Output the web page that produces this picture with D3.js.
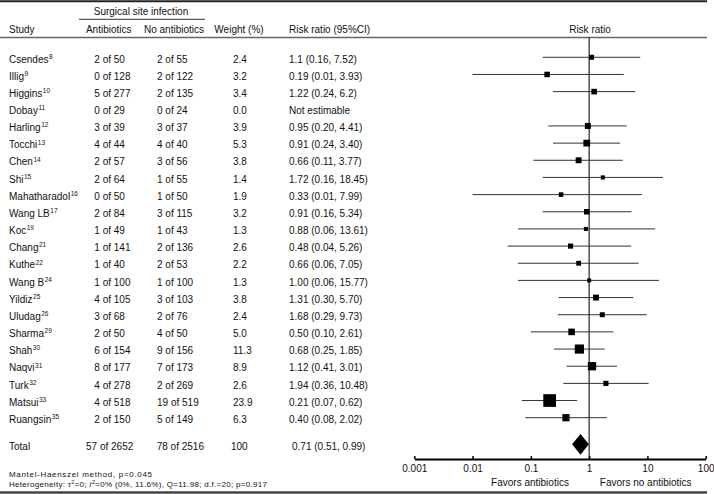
<!DOCTYPE html>
<html>
<head>
<meta charset="utf-8">
<script src="https://cdn.jsdelivr.net/npm/d3@7"></script>
<style>
  html, body { margin: 0; padding: 0; background: #fff; }
  svg { display: block; }
  text { font-family: "Liberation Sans", Arial, Helvetica, sans-serif; fill: #111; }
</style>
</head>
<body>
<div id="chart"></div>
<script>
const studies = ["Csendes","Illig","Higgins","Dobay","Harling","Tocchi","Chen","Shi","Mahatharadol","Wang LB","Koc","Chang","Kuthe","Wang B","Yildiz","Uludag","Sharma","Shah","Naqvi","Turk","Matsui","Ruangsin"];
const refs = ["8","9","10","11","12","13","14","15","16","17","19","21","22","24","25","26","29","30","31","32","33","35"];
const antibiotics = ["2 of 50","0 of 128","5 of 277","0 of 29","3 of 39","4 of 44","2 of 57","2 of 64","0 of 50","2 of 84","1 of 49","1 of 141","1 of 40","1 of 100","4 of 105","3 of 68","2 of 50","6 of 154","8 of 177","4 of 278","4 of 518","2 of 150"];
const noAntibiotics = ["2 of 55","2 of 122","2 of 135","0 of 24","3 of 37","4 of 40","3 of 56","1 of 55","1 of 50","3 of 115","1 of 43","2 of 136","2 of 53","1 of 100","3 of 103","2 of 76","4 of 50","9 of 156","7 of 173","2 of 269","19 of 519","5 of 149"];
const weights = [2.4,3.2,3.4,0.0,3.9,5.3,3.8,1.4,1.9,3.2,1.3,2.6,2.2,1.3,3.8,2.4,5.0,11.3,8.9,2.6,23.9,6.3];
const riskRatio = [1.1,0.19,1.22,null,0.95,0.91,0.66,1.72,0.33,0.91,0.88,0.48,0.66,1.00,1.31,1.68,0.50,0.68,1.12,1.94,0.21,0.40];
const ciLower = [0.16,0.01,0.24,null,0.20,0.24,0.11,0.16,0.01,0.16,0.06,0.04,0.06,0.06,0.30,0.29,0.10,0.25,0.41,0.36,0.07,0.08];
const ciUpper = [7.52,3.93,6.2,null,4.41,3.40,3.77,18.45,7.99,5.34,13.61,5.26,7.05,15.77,5.70,9.73,2.61,1.85,3.01,10.48,0.62,2.02];
const rrLabels = ["1.1 (0.16, 7.52)","0.19 (0.01, 3.93)","1.22 (0.24, 6.2)","Not estimable","0.95 (0.20, 4.41)","0.91 (0.24, 3.40)","0.66 (0.11, 3.77)","1.72 (0.16, 18.45)","0.33 (0.01, 7.99)","0.91 (0.16, 5.34)","0.88 (0.06, 13.61)","0.48 (0.04, 5.26)","0.66 (0.06, 7.05)","1.00 (0.06, 15.77)","1.31 (0.30, 5.70)","1.68 (0.29, 9.73)","0.50 (0.10, 2.61)","0.68 (0.25, 1.85)","1.12 (0.41, 3.01)","1.94 (0.36, 10.48)","0.21 (0.07, 0.62)","0.40 (0.08, 2.02)"];

const total = { label: "Total", antibiotics: "57 of 2652", noAntibiotics: "78 of 2516", weight: "100", rr: 0.71, lower: 0.51, upper: 0.99, rrLabel: "0.71 (0.51, 0.99)" };

const headers = ["Study","Antibiotics","No antibiotics","Weight (%)","Risk ratio (95%CI)"];
const groupHeader = "Surgical site infection";
const plotHeader = "Risk ratio";
const tickValues = [0.001,0.01,0.1,1,10,100];
const tickLabels = ["0.001","0.01","0.1","1","10","100"];
const favorLabels = ["Favors antibiotics","Favors no antibiotics"];
const footnote1 = "Mantel-Haenszel  method, p=0.045";

const W = 714, H = 494;
const svg = d3.select("#chart").append("svg").attr("width", W).attr("height", H);

const x = d3.scaleLog().domain([0.001, 100]).range([414.3, 705.7]);
const y = d3.scalePoint().domain(d3.range(studies.length)).range([57.3, 417.7]);
const totalY = 444.3;
const axisY = 459;
const size = d3.scalePow().exponent(0.5).domain([0, 23.9]).range([1.4, 12.7]);

const fs = 10;
const dyText = 5.2;

// Frame lines
svg.append("line").attr("x1", 0).attr("x2", 707).attr("y1", 1.2).attr("y2", 1.2).attr("stroke", "#222").attr("stroke-width", 2);
svg.append("line").attr("x1", 0).attr("x2", 707).attr("y1", 37.5).attr("y2", 37.5).attr("stroke", "#666").attr("stroke-width", 1.5);
svg.append("line").attr("x1", 0).attr("x2", 707).attr("y1", 492.5).attr("y2", 492.5).attr("stroke", "#444").attr("stroke-width", 2.5);
svg.append("line").attr("x1", 79).attr("x2", 205).attr("y1", 19.3).attr("y2", 19.3).attr("stroke", "#333").attr("stroke-width", 1);

// Headers
svg.append("text").attr("x", 141).attr("y", 14.5).attr("text-anchor", "middle").attr("font-size", fs).text(groupHeader);
const hx = [9, 108.7, 174, 239, 289];
const ha = ["start","middle","middle","middle","start"];
headers.forEach((h, i) => {
  svg.append("text").attr("x", hx[i]).attr("y", 32.6).attr("text-anchor", ha[i]).attr("font-size", fs).text(h);
});
svg.append("text").attr("x", 590).attr("y", 32.6).attr("text-anchor", "middle").attr("font-size", fs).text(plotHeader);

// Table rows
const rows = svg.append("g");
studies.forEach((s, i) => {
  const t = rows.append("text").attr("x", 9).attr("y", y(i) + dyText).attr("font-size", fs);
  t.append("tspan").text(s);
  t.append("tspan").attr("font-size", 6.5).attr("dy", -3.8).attr("dx", 0.5).text(refs[i]);
  rows.append("text").attr("x", 94.3).attr("y", y(i) + dyText).attr("font-size", fs).text(antibiotics[i]);
  rows.append("text").attr("x", 157).attr("y", y(i) + dyText).attr("font-size", fs).text(noAntibiotics[i]);
  rows.append("text").attr("x", 233).attr("y", y(i) + dyText).attr("font-size", fs).text(weights[i].toFixed(1));
  rows.append("text").attr("x", 289).attr("y", y(i) + dyText).attr("font-size", fs).text(rrLabels[i]);
});
rows.append("text").attr("x", 9).attr("y", totalY + dyText).attr("font-size", fs).text(total.label);
rows.append("text").attr("x", 86).attr("y", totalY + dyText).attr("font-size", fs).text(total.antibiotics);
rows.append("text").attr("x", 156.7).attr("y", totalY + dyText).attr("font-size", fs).text(total.noAntibiotics);
rows.append("text").attr("x", 231).attr("y", totalY + dyText).attr("font-size", fs).text(total.weight);
rows.append("text").attr("x", 292).attr("y", totalY + dyText).attr("font-size", fs).text(total.rrLabel);

// Footnotes
svg.append("text").attr("x", 9).attr("y", 477).attr("font-size", 8).attr("textLength", 143).attr("lengthAdjust", "spacing").text(footnote1);
const fn2 = svg.append("text").attr("x", 9).attr("y", 486.5).attr("font-size", 8).attr("textLength", 258).attr("lengthAdjust", "spacing");
fn2.append("tspan").text("Heterogeneity:  τ");
fn2.append("tspan").attr("font-size", 5.5).attr("dy", -3).text("2");
fn2.append("tspan").attr("dy", 3).text("=0;  ");
fn2.append("tspan").attr("font-style", "italic").text("I");
fn2.append("tspan").attr("font-size", 5.5).attr("dy", -3).text("2");
fn2.append("tspan").attr("dy", 3).text("=0%  (0%,  11.6%), Q=11.98;  d.f.=20;  p=0.917");

// Plot: reference line
svg.append("line").attr("x1", x(1)).attr("x2", x(1)).attr("y1", 37.5).attr("y2", axisY).attr("stroke", "#222").attr("stroke-width", 1.2);

// CI lines and squares
const idx = d3.range(studies.length).filter(i => riskRatio[i] != null);
const plot = svg.append("g");
plot.selectAll("line.ci").data(idx).join("line")
  .attr("class", "ci")
  .attr("x1", i => x(ciLower[i])).attr("x2", i => x(ciUpper[i]))
  .attr("y1", i => y(i)).attr("y2", i => y(i))
  .attr("stroke", "#333").attr("stroke-width", 1);
plot.selectAll("rect.pt").data(idx).join("rect")
  .attr("class", "pt")
  .attr("x", i => x(riskRatio[i]) - size(weights[i]) / 2)
  .attr("y", i => y(i) - size(weights[i]) / 2)
  .attr("width", i => size(weights[i]))
  .attr("height", i => size(weights[i]))
  .attr("fill", "#000");

// Diamond
const dh = 10.4;
plot.append("path")
  .attr("d", `M${x(total.lower)},${totalY} L${x(total.rr)},${totalY - dh} L${x(total.upper)},${totalY} L${x(total.rr)},${totalY + dh} Z`)
  .attr("fill", "#000");

// Axis
const axis = d3.axisBottom(x).tickValues(tickValues).tickFormat((d, i) => tickLabels[i]).tickSizeInner(-3).tickSizeOuter(0).tickPadding(5.5);
const ag = svg.append("g").attr("transform", `translate(0,${axisY})`).call(axis);
ag.select(".domain").attr("stroke", "#000").attr("stroke-width", 2);
ag.selectAll(".tick line").attr("stroke", "#000").attr("stroke-width", 1.5);
ag.selectAll(".tick text").attr("font-size", fs).attr("font-family", "Liberation Sans, Arial, sans-serif").attr("fill", "#111");

// Favors labels
svg.append("text").attr("x", 530).attr("y", 486).attr("text-anchor", "middle").attr("font-size", fs).text(favorLabels[0]);
svg.append("text").attr("x", 645.7).attr("y", 486).attr("text-anchor", "middle").attr("font-size", fs).text(favorLabels[1]);
</script>
</body>
</html>
